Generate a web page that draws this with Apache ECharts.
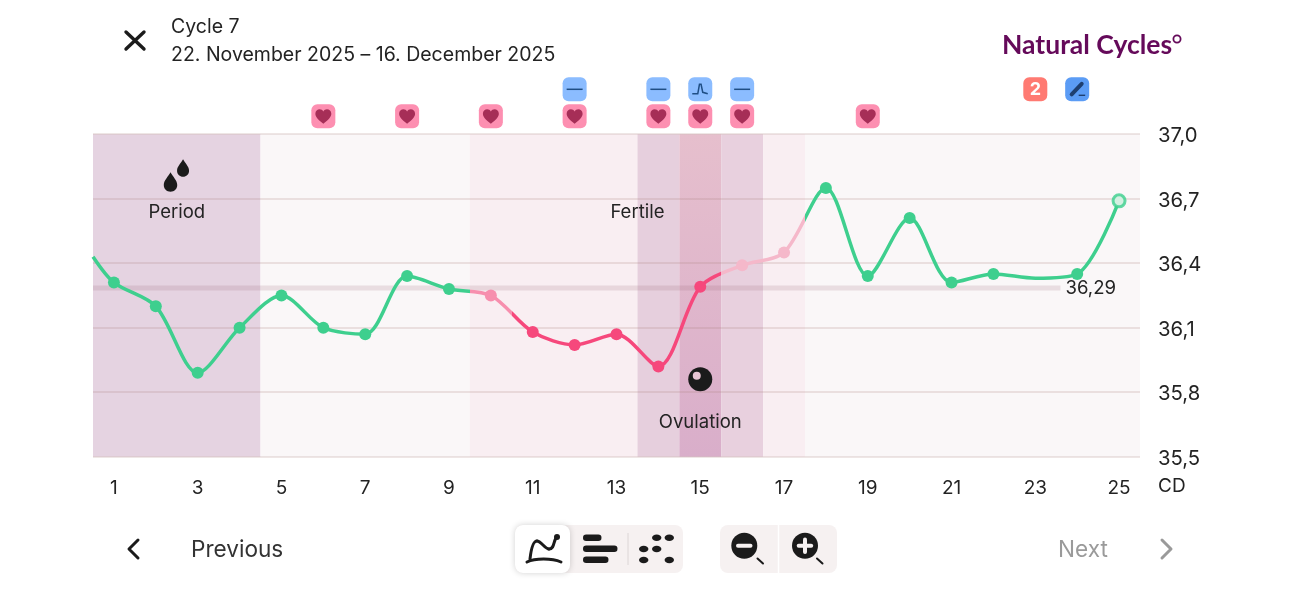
<!DOCTYPE html>
<html><head><meta charset="utf-8">
<style>html,body{margin:0;padding:0;background:#fff}#c{width:1304px;height:600px}</style>
<script src="https://cdn.jsdelivr.net/npm/echarts@6/dist/echarts.min.js"></script>
</head><body><div id="c"></div>
<script>
const dayLabels = ['1','2','3','4','5','6','7','8','9','10','11','12','13','14','15','16','17','18','19','20','21','22','23','24','25'];
const tempLabels = ['35,5','35,8','36,1','36,4','36,7','37,0'];
const days = [0.5,1,2,3,4,5,6,7,8,9,10,11,12,13,14,15,16,17,18,19,20,21,22,23,24,25];
const temps = [36.43,36.31,36.20,35.89,36.10,36.25,36.10,36.07,36.34,36.28,36.25,36.08,36.02,36.07,35.92,36.29,36.39,36.45,36.75,36.34,36.61,36.31,36.35,36.33,36.35,36.69];
const unmeasuredDays = [0.5,23];
const coverlineValue = 36.285;
const coverlineLabel = '36,29';
const coverlineDays = [0.5,23.6];
const bandStarts = [0.5,4.5,9.5,13.5,14.5,15.5,16.5,17.5];
const bandEnds = [4.5,9.5,13.5,14.5,15.5,16.5,17.5,25.5];
const heartDays = [6,8,10,12,14,15,16,19];
const flatDays = [12,14,16];
const peakDays = [15];
const countDays = [23];
const penDays = [24];
const notes = [['Period',2.5,36.637],['Fertile',13.5,36.637],['Ovulation',15,35.66]];
const dropsDay = [2.5];
const ovulationDay = [15];

const FONT = 'Inter';
const INK = '#232323';
const green = '#3ecf8e';
const bandColors = ['#e5d3e1','#faf7f8','#f9eef2','#e6cfdd',
  new echarts.graphic.LinearGradient(0,0,0,1,[{offset:0,color:'#e6bfcd'},{offset:1,color:'#d9aeca'}]),
  '#e8d0de','#f9eef2','#faf7f8'];

const HEART='M12 21C5 15 1 11.5 1 7C1 3.5 3.8 1 7 1C9 1 11 2 12 4C13 2 15 1 17 1C20.2 1 23 3.5 23 7C23 11.5 19 15 12 21Z';
const DROP='M10 0C13 6 20 12 20 19C20 25 15.5 29 10 29C4.5 29 0 25 0 19C0 12 7 6 10 0Z';
const ICON_ROW1 = 17.9, ICON_ROW2 = 44.9;

function tile(cx,cy,fill){return {type:'rect',shape:{x:cx-12,y:cy-12,width:24,height:24,r:6},style:{fill}};}
function iconSeries(daysArr, rowOffset, build){
  return {type:'custom',coordinateSystem:'cartesian2d',xAxisIndex:0,yAxisIndex:0,clip:false,z:6,silent:true,
    data:daysArr.map(d=>[d,37]),encode:{x:0,y:1},
    renderItem:(p,api)=>{const c=api.coord([api.value(0),api.value(1)]);
      return {type:'group',children:build(c[0],c[1]-rowOffset)};}};
}
function curve(x1,y1,cpx1,cpy1,cpx2,cpy2,x2,y2){
  return {type:'bezierCurve',shape:{x1,y1,cpx1,cpy1,cpx2,cpy2,x2,y2},style:{stroke:'#1b1b1b',lineWidth:3,fill:null,lineCap:'round'}};
}
const option = {
  animation:false,
  backgroundColor:'#fff',
  textStyle:{fontFamily:FONT},
  grid:{left:93,top:134.2,width:1047,height:322.5,containLabel:false},
  xAxis:[
    {type:'value',min:0.5,max:25.5,show:false},
    {type:'category',data:dayLabels,position:'bottom',boundaryGap:true,
      axisLine:{show:false},axisTick:{show:false},splitLine:{show:false},
      axisLabel:{interval:1,color:INK,fontSize:19,fontFamily:FONT,margin:22}}
  ],
  yAxis:[
    {type:'value',min:35.5,max:37,show:false},
    {type:'category',data:tempLabels,position:'right',boundaryGap:false,z:1,
      axisLine:{show:false},axisTick:{show:false},
      splitLine:{show:true,interval:0,lineStyle:{color:'rgba(170,130,125,0.2)',width:2}},
      axisLabel:{interval:0,color:INK,fontSize:20.3,fontFamily:FONT,margin:18,verticalAlign:'top',lineHeight:4}}
  ],
  visualMap:{show:false,type:'piecewise',seriesIndex:2,dimension:0,
    pieces:[
      {lt:9.5,color:green},
      {gte:9.5,lt:10.5,color:'#f78fae'},
      {gte:10.5,lt:15.5,color:'#f6487c'},
      {gte:15.5,lt:17.5,color:'#f5b8ca'},
      {gte:17.5,color:green}]},
  series:[
    {type:'custom',coordinateSystem:'cartesian2d',xAxisIndex:0,yAxisIndex:0,z:0,silent:true,
      data:bandStarts.map((s,i)=>[s,bandEnds[i],i]),encode:{x:[0,1]},
      renderItem:(p,api)=>{
        const a=api.coord([api.value(0),37]),b=api.coord([api.value(1),35.5]);
        return {type:'rect',shape:{x:a[0],y:a[1],width:b[0]-a[0],height:b[1]-a[1]},style:{fill:bandColors[api.value(2)]}};
      }},
    {type:'line',xAxisIndex:0,yAxisIndex:0,z:2,symbol:'none',silent:true,
      data:[[coverlineDays[0],coverlineValue],[coverlineDays[1],coverlineValue]],
      lineStyle:{color:'rgba(150,95,110,0.17)',width:5},
      label:{show:false},
      endLabel:{show:true,formatter:()=>coverlineLabel,color:INK,fontSize:18.6,fontFamily:FONT,distance:5}},
    {type:'line',xAxisIndex:0,yAxisIndex:0,z:4,smooth:0.3,symbol:'circle',symbolSize:12,showAllSymbol:true,silent:true,
      lineStyle:{width:3.5},
      data:days.map((d,i)=>{
        const item={value:[d,temps[i]]};
        if(unmeasuredDays.includes(d)) item.symbol='none';
        return item;
      })},
    // open marker for the latest reading
    {type:'scatter',xAxisIndex:0,yAxisIndex:0,z:5,symbol:'circle',symbolSize:12,silent:true,
      data:[[days[days.length-1],temps[temps.length-1]]],
      itemStyle:{color:'#faf7f8',borderColor:green,borderWidth:3}},
    iconSeries(heartDays,ICON_ROW1,(x,y)=>[tile(x,y,'#fd8fb1'),
      {type:'path',shape:{pathData:HEART,x:x-8.5,y:y-7,width:17,height:14.5},style:{fill:'#a62e57'}}]),
    iconSeries(flatDays,ICON_ROW2,(x,y)=>[tile(x,y,'#8bbcff'),
      {type:'line',shape:{x1:x-8,y1:y,x2:x+8,y2:y},style:{stroke:'#1f4e85',lineWidth:1.5}}]),
    iconSeries(peakDays,ICON_ROW2,(x,y)=>[tile(x,y,'#8bbcff'),
      {type:'polyline',shape:{points:[[x-8,y+4.5],[x-2.5,y+4.5],[x-0.8,y-5],[x+0.8,y-5],[x+2.5,y+3],[x+7.5,y+4.5]]},style:{stroke:'#1f4e85',lineWidth:1.5,fill:null}}]),
    iconSeries(countDays,ICON_ROW2,(x,y)=>[tile(x,y,'#ff7a72'),
      {type:'text',style:{x,y:y+0.5,text:'2',fill:'#fff',font:'700 18px Inter',align:'center',verticalAlign:'middle'}}]),
    iconSeries(penDays,ICON_ROW2,(x,y)=>[tile(x,y,'#5b9cf5'),
      {type:'polyline',shape:{points:[[x-5.5,y+5],[x+4.5,y-5.5]]},style:{stroke:'#1e3f70',lineWidth:4,lineCap:'round'}},
      {type:'line',shape:{x1:x+1.5,y1:y+6,x2:x+8,y2:y+6},style:{stroke:'#1e3f70',lineWidth:1.4}}]),
    {type:'custom',coordinateSystem:'cartesian2d',xAxisIndex:0,yAxisIndex:0,z:6,silent:true,clip:false,
      data:notes.map(n=>[n[1],n[2]]),encode:{x:0,y:1},
      renderItem:(p,api)=>{const c=api.coord([api.value(0),api.value(1)]);
        return {type:'text',style:{x:c[0],y:c[1],text:notes[p.dataIndex][0],fill:INK,font:'18.5px Inter',align:'center',verticalAlign:'middle'}};}},
    {type:'custom',coordinateSystem:'cartesian2d',xAxisIndex:0,yAxisIndex:0,z:6,silent:true,
      data:dropsDay.map(d=>[d,36.637]),encode:{x:0,y:1},
      renderItem:(p,api)=>{const c=api.coord([api.value(0),api.value(1)]);
        return {type:'group',children:[
          {type:'path',shape:{pathData:DROP,x:c[0]-13,y:c[1]-40,width:13.5,height:19.5},style:{fill:'#1b1b1b'}},
          {type:'path',shape:{pathData:DROP,x:c[0]+0.3,y:c[1]-53,width:12,height:17.5},style:{fill:'#1b1b1b'}}]};}},
    {type:'custom',coordinateSystem:'cartesian2d',xAxisIndex:0,yAxisIndex:0,z:6,silent:true,
      data:ovulationDay.map(d=>[d,35.86]),encode:{x:0,y:1},
      renderItem:(p,api)=>{const c=api.coord([api.value(0),api.value(1)]);
        return {type:'group',children:[
          {type:'circle',shape:{cx:c[0],cy:c[1],r:12},style:{fill:'#1b1b1b'}},
          {type:'circle',shape:{cx:c[0]-3.5,cy:c[1]-3.5,r:4},style:{fill:'#e9c4d4'}}]};}}
  ],
  graphic:{elements:[
    {type:'polyline',shape:{points:[[126,32],[144,49]]},style:{stroke:'#1b1b1b',lineWidth:3.4,lineCap:'round'}},
    {type:'polyline',shape:{points:[[144,32],[126,49]]},style:{stroke:'#1b1b1b',lineWidth:3.4,lineCap:'round'}},
    {type:'text',style:{x:171,y:27,text:'Cycle 7',fill:INK,font:'19.5px Inter',verticalAlign:'middle'}},
    {type:'text',style:{x:171,y:55,text:'22. November 2025 – 16. December 2025',fill:INK,font:'19.5px Inter',verticalAlign:'middle'}},
    {type:'text',style:{x:1158,y:486,text:'CD',fill:INK,font:'19px Inter',verticalAlign:'middle'}},
    {type:'text',style:{x:1002,y:45,text:'Natural Cycles',fill:'#650a5a',font:'700 26.5px Lato',verticalAlign:'middle'}},
    {type:'circle',shape:{cx:1177,cy:39,r:3.6},style:{fill:'none',stroke:'#650a5a',lineWidth:1.8}},
    {type:'polyline',shape:{points:[[138,540],[129,549],[138,558]]},style:{stroke:'#1b1b1b',lineWidth:3,fill:null,lineCap:'round',lineJoin:'round'}},
    {type:'text',style:{x:191,y:550,text:'Previous',fill:'#333',font:'22.6px Inter',verticalAlign:'middle'}},
    {type:'text',style:{x:1058,y:550,text:'Next',fill:'#9a9a9a',font:'22.6px Inter',verticalAlign:'middle'}},
    {type:'polyline',shape:{points:[[1162,540],[1171,549],[1162,558]]},style:{stroke:'#9a9a9a',lineWidth:3,fill:null,lineCap:'round',lineJoin:'round'}},
    {type:'rect',shape:{x:515,y:525,width:168,height:48,r:8},style:{fill:'#f6f1f1'}},
    {type:'rect',shape:{x:515,y:525,width:55,height:48,r:8},style:{fill:'#fff',shadowBlur:6,shadowColor:'rgba(0,0,0,0.18)'}},
    curve(527,562,535,558,552,558,561,562),
    curve(530,559,531,550,533,541,537,541),
    curve(537,541,541,541,545,549,549,549),
    curve(549,549,555,549,553,540,557,537),
    {type:'circle',shape:{cx:557,cy:537,r:3},style:{fill:'#1b1b1b'}},
    {type:'rect',shape:{x:583,y:534.5,width:18.5,height:6.5,r:3.2},style:{fill:'#1b1b1b'}},
    {type:'rect',shape:{x:583,y:545.5,width:34.5,height:6.5,r:3.2},style:{fill:'#1b1b1b'}},
    {type:'rect',shape:{x:583,y:556.5,width:25.5,height:6.5,r:3.2},style:{fill:'#1b1b1b'}},
    {type:'line',shape:{x1:628,y1:533,x2:628,y2:565},style:{stroke:'#dcd6d6',lineWidth:1}},
    ...[[656.7,537.7],[669.3,537.7],[643.7,549],[656.7,549],[643.7,560],[669.3,560]].map(p=>({type:'ellipse',shape:{cx:p[0],cy:p[1],rx:4.7,ry:3.3},style:{fill:'#1b1b1b'}})),
    {type:'rect',shape:{x:720,y:525,width:117,height:48,r:8},style:{fill:'#f6f1f1'}},
    {type:'line',shape:{x1:778.5,y1:525,x2:778.5,y2:573},style:{stroke:'#fff',lineWidth:1.5}},
    {type:'circle',shape:{cx:744.3,cy:545.7,r:13},style:{fill:'#1b1b1b'}},
    {type:'rect',shape:{x:736,y:543.7,width:16.5,height:4,r:2},style:{fill:'#f6f1f1'}},
    {type:'line',shape:{x1:757.5,y1:558.5,x2:763,y2:563.5},style:{stroke:'#1b1b1b',lineWidth:2,lineCap:'round'}},
    {type:'circle',shape:{cx:805,cy:545.7,r:13},style:{fill:'#1b1b1b'}},
    {type:'rect',shape:{x:796.7,y:543.7,width:16.5,height:4,r:2},style:{fill:'#f6f1f1'}},
    {type:'rect',shape:{x:803,y:537.5,width:4,height:16.5,r:2},style:{fill:'#f6f1f1'}},
    {type:'line',shape:{x1:817,y1:558.5,x2:822.5,y2:563.5},style:{stroke:'#1b1b1b',lineWidth:2,lineCap:'round'}}
  ]}
};
echarts.init(document.getElementById('c')).setOption(option);
</script></body></html>
